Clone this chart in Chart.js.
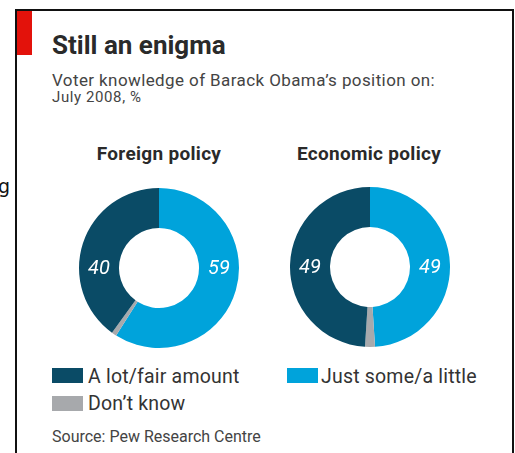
<!DOCTYPE html>
<html>
<head>
<meta charset="utf-8">
<script src="https://cdn.jsdelivr.net/npm/chart.js@4.4.1/dist/chart.umd.min.js"></script>
<style>
  body { margin: 0; width: 515px; height: 453px; overflow: hidden; background: #fff; position: relative; font-family: "Roboto", sans-serif; color: #333; }
  .abs { position: absolute; white-space: nowrap; line-height: 1; }
  #frame { position: absolute; left: 15px; top: 9px; width: 495px; height: 460px; border: 2px solid #111; }
  #redbar { position: absolute; left: 17px; top: 11px; width: 15px; height: 44px; background: #e3120b; }
  #title { left: 52px; top: 32px; font-size: 26px; font-weight: bold; color: #2a2a2a; }
  #subtitle { left: 52px; top: 72px; font-size: 17px; letter-spacing: 0.4px; color: #444; }
  #date { left: 52px; top: 90px; font-size: 15px; letter-spacing: 0.6px; color: #444; }
  .head { top: 144px; font-size: 19px; letter-spacing: 0.3px; font-weight: bold; color: #2a2a2a; transform: translateX(-50%); }
  .pie { position: absolute; width: 160px; height: 160px; }
  .sw { position: absolute; width: 31px; height: 15px; }
  .lg { font-size: 19.5px; letter-spacing: 0.2px; color: #333; }
  #source { left: 52px; top: 429px; font-size: 16px; color: #444; }
  #stray { left: -2px; top: 177px; font-size: 19px; font-family: "DejaVu Sans", sans-serif; color: #111; }
</style>
</head>
<body>
<div class="abs" id="stray">g</div>
<div id="frame"></div>
<div id="redbar"></div>
<div class="abs" id="title">Still an enigma</div>
<div class="abs" id="subtitle">Voter knowledge of Barack Obama’s position on:</div>
<div class="abs" id="date">July 2008, %</div>

<div class="abs head" id="head0" style="left:159px"></div>
<div class="abs head" id="head1" style="left:369px"></div>
<div class="pie" style="left:79px;top:188px"><canvas id="pie0" width="160" height="160"></canvas></div>
<div class="pie" style="left:290px;top:187px"><canvas id="pie1" width="160" height="160"></canvas></div>

<div class="sw" style="left:52px;top:368px;background:#0a4b66"></div>
<div class="abs lg" id="lg0" style="left:88px;top:367px"></div>
<div class="sw" style="left:287px;top:368px;background:#00a3db"></div>
<div class="abs lg" id="lg1" style="left:321px;top:367px"></div>
<div class="sw" style="left:52px;top:396px;background:#a7a9ac"></div>
<div class="abs lg" id="lg2" style="left:88px;top:394px"></div>

<div class="abs" id="source">Source: Pew Research Centre</div>

<script>
// survey answers, drawn clockwise from 12 o'clock
const answers = ["Just some/a little", "Don’t know", "A lot/fair amount"];
const answerColors = ["#00a3db", "#a7a9ac", "#0a4b66"];
const policies = ["Foreign policy", "Economic policy"];
const foreignPolicy = [59, 1, 40];
const economicPolicy = [49, 2, 49];

// legend is listed in a different order to the slices
const legendOrder = [2, 0, 1];
legendOrder.forEach((a, i) => {
  document.getElementById("lg" + i).textContent = answers[a];
});
policies.forEach((p, i) => {
  document.getElementById("head" + i).textContent = p;
});

// white italic numbers sitting in the ring, on the side each slice falls on
const ringLabels = {
  id: "ringLabels",
  afterDatasetsDraw(chart) {
    const ctx = chart.ctx;
    const meta = chart.getDatasetMeta(0);
    const values = chart.data.datasets[0].data;
    ctx.save();
    ctx.font = "italic 20px Roboto";
    ctx.fillStyle = "#fff";
    ctx.textAlign = "center";
    ctx.textBaseline = "middle";
    meta.data.forEach((arc, i) => {
      if (values[i] < 5) return;
      const { x, y, startAngle, endAngle, innerRadius, outerRadius } = arc.getProps(
        ["x", "y", "startAngle", "endAngle", "innerRadius", "outerRadius"], true);
      const mid = (startAngle + endAngle) / 2;
      const side = Math.cos(mid) >= 0 ? 1 : -1;
      ctx.fillText(String(values[i]), x + side * (innerRadius + outerRadius) / 2, y + 1);
    });
    ctx.restore();
  },
};

const donut = (canvas, values) =>
  new Chart(canvas, {
    type: "doughnut",
    data: {
      labels: answers,
      datasets: [
        {
          data: values,
          backgroundColor: answerColors,
          borderWidth: 0,
        },
      ],
    },
    options: {
      responsive: false,
      animation: false,
      cutout: "50%",
      layout: { padding: 0 },
      plugins: {
        legend: { display: false },
        tooltip: { enabled: false },
      },
    },
    plugins: [ringLabels],
  });

donut(document.getElementById("pie0"), foreignPolicy);
donut(document.getElementById("pie1"), economicPolicy);
</script>
</body>
</html>
